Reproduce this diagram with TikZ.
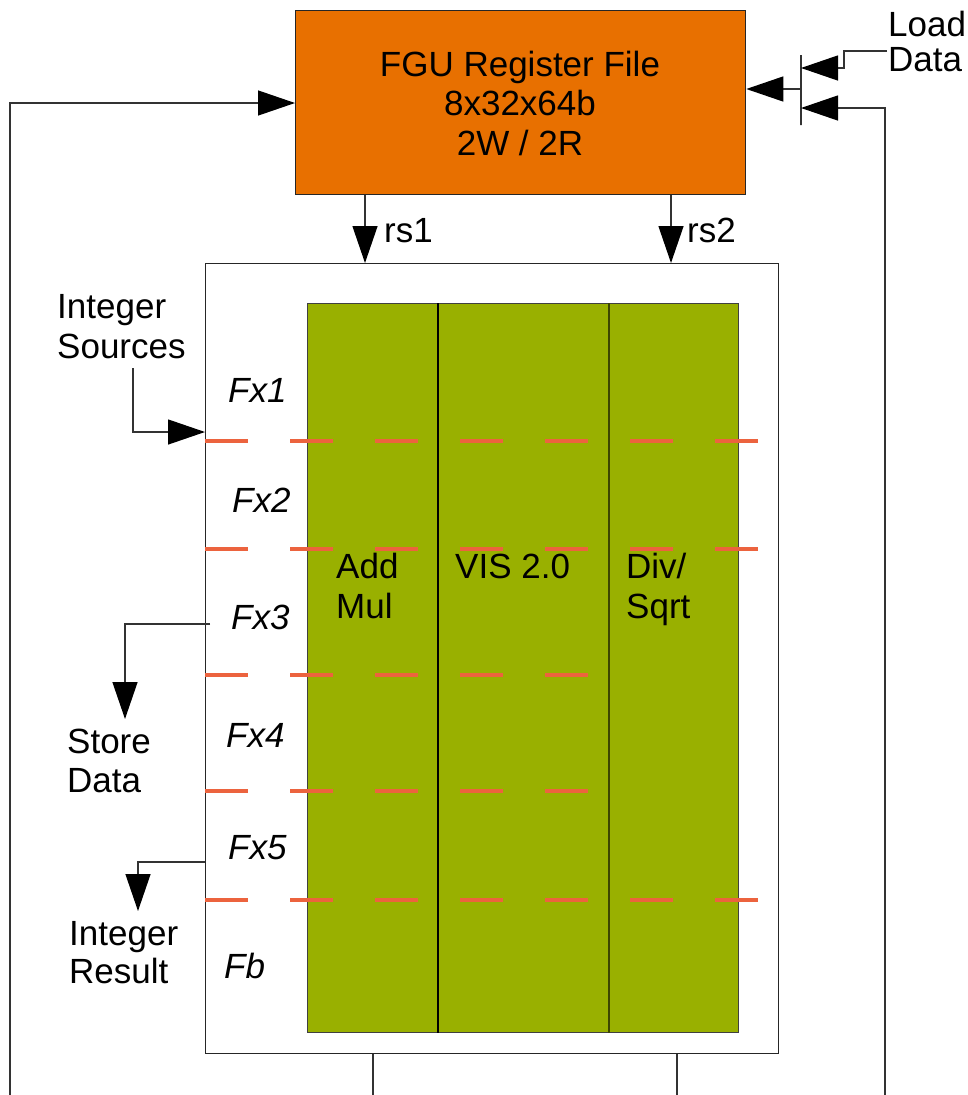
\documentclass[tikz,border=0pt]{standalone}
\usepackage{fontspec}
\setmainfont{Liberation Sans}
\usetikzlibrary{arrows.meta}
\definecolor{fguorange}{RGB}{232,112,0}
\definecolor{fugreen}{RGB}{153,176,0}
\definecolor{stagered}{RGB}{236,99,62}
\begin{document}
\begin{tikzpicture}[x=1pt,y=-1pt,
  wire/.style={draw=black!80, line width=1.3pt},
  arr/.style={wire, -{Triangle[length=37pt,width=25pt,color=black]}},
  lbl/.style={inner sep=0pt, anchor=base west, font=\fontsize{35}{40}\selectfont},
  stage/.style={lbl, font=\fontsize{35}{40}\selectfont\itshape},
  stageline/.style={draw=stagered, line width=4pt, dash pattern=on 43pt off 42pt},
  box/.style={draw=black!85, line width=1.3pt, inner sep=0pt, anchor=north west},
]
\useasboundingbox (0,0) rectangle (968,1095);

% register file
\node[box, fill=fguorange, minimum width=450pt, minimum height=184pt] (rf) at (295,10) {};
\node[inner sep=0pt, anchor=base, font=\fontsize{35}{39.5}\selectfont] (rftext) at (520,76)
  {\begin{tabular}[t]{@{}c@{}}FGU Register File\\8x32x64b\\2W / 2R\end{tabular}};

% execution block
\node[box, fill=white, minimum width=573pt, minimum height=790pt] (ex) at (205,263) {};
\node[box, fill=fugreen, draw=black!75, minimum width=431pt, minimum height=729pt] (fu) at (307,303) {};
\draw[draw=black, line width=1.3pt] (fu.north -| 438,0) -- (fu.south -| 438,0);
\draw[draw=black!60!fugreen, line width=1.6pt] (fu.north -| 609,0) -- (fu.south -| 609,0);

% pipeline stage lines
\draw[stageline] (ex.west |- 0,441) -- (758,441);
\draw[stageline] (ex.west |- 0,549) -- (758,549);
\draw[stageline] (ex.west |- 0,675) -- (589,675);
\draw[stageline] (ex.west |- 0,791) -- (589,791);
\draw[stageline] (ex.west |- 0,900) -- (758,900);

% unit labels
\node[lbl] (addmul) at (336,578) {\begin{tabular}[t]{@{}l@{}}Add\\Mul\end{tabular}};
\node[lbl] (vis) at (455,578) {VIS 2.0};
\node[lbl] (divsqrt) at (626,578) {\begin{tabular}[t]{@{}l@{}}Div/\\Sqrt\end{tabular}};

% stage labels
\node[stage] (fx1) at (228,402) {Fx1};
\node[stage] (fx2) at (232,512) {Fx2};
\node[stage] (fx3) at (231,629) {Fx3};
\node[stage] (fx4) at (226,747) {Fx4};
\node[stage] (fx5) at (228,859) {Fx5};
\node[stage] (fb) at (224,978) {Fb};

% rs1 / rs2
\draw[arr] (rf.south -| 365,0) -- (ex.north -| 365,0);
\draw[arr] (rf.south -| 671,0) -- (ex.north -| 671,0);
\node[lbl] (rs1) at (384,242) {rs1};
\node[lbl] (rs2) at (687,242) {rs2};

% write-back loops
\coordinate (loopL) at (10,1095);
\draw[arr] (loopL) |- (rf.west |- 0,103);
\node[box, draw=black!80, minimum width=0pt, minimum height=70pt, anchor=center] (mux) at (801,90) {};
\draw[arr] (mux.center |- 0,89) -- (rf.east |- 0,89);
\node[lbl, font=\fontsize{35}{35}\selectfont] (load) at (888,36) {\begin{tabular}[t]{@{}l@{}}Load\\Data\end{tabular}};
\coordinate (ldin) at (887,51);
\draw[arr] (ldin) -- (844,51) -- (844,68) -- (mux.center |- 0,68);
\coordinate (loopR) at (885,1095);
\draw[arr] (loopR) |- (mux.center |- 0,108);
\draw[wire] (ex.south -| 373,0) -- (373,1095);
\draw[wire] (ex.south -| 677,0) -- (677,1095);

% integer sources / store / result
\node[lbl] (isrc) at (57,318) {\begin{tabular}[t]{@{}l@{}}Integer\\Sources\end{tabular}};
\draw[arr] (133,368) |- (ex.west |- 0,432);
\node[lbl, font=\fontsize{35}{39}\selectfont] (store) at (67,753) {\begin{tabular}[t]{@{}l@{}}Store\\Data\end{tabular}};
\draw[arr] (210,624) -| (125,719);
\node[lbl, font=\fontsize{35}{38}\selectfont] (ires) at (69,945) {\begin{tabular}[t]{@{}l@{}}Integer\\Result\end{tabular}};
\draw[arr] (ex.west |- 0,862) -| (138,911);
\end{tikzpicture}
\end{document}
